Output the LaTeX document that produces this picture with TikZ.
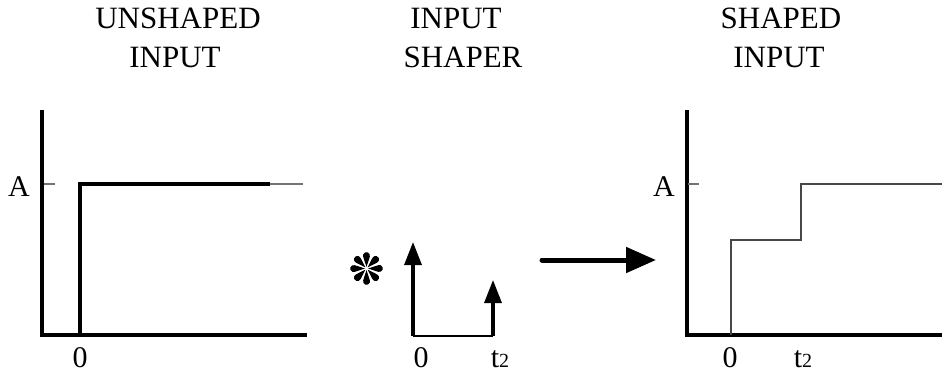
\documentclass[tikz,border=0pt]{standalone}
\usepackage{fontspec}
\setmainfont{Liberation Serif}
\usetikzlibrary{arrows.meta}
\tikzset{
  title/.style={anchor=base, font=\fontsize{31}{32}\selectfont, inner sep=0pt},
  lbl/.style={anchor=base, font=\fontsize{30}{32}\selectfont, inner sep=0pt},
  axis/.style={line width=3.5pt},
  thickstep/.style={line width=3.5pt},
  thinline/.style={line width=1.4pt, draw=black!72},
  ticks/.style={line width=1.2pt, draw=black!55},
  impulse/.style={line width=3.2pt, -{Triangle[length=23pt,width=17pt]}},
  bigarrow/.style={line width=5pt, -{Triangle[length=30pt,width=25pt]}, line cap=round},
  petal/.style={fill=black},
}
\newcommand{\tsub}{t{\fontsize{20}{22}\selectfont 2}}
\begin{document}
\begin{tikzpicture}[x=1pt,y=-1pt]
\useasboundingbox (0,0) rectangle (942,373);
% titles
\node[title] (t1a) at (178,28) {UNSHAPED};
\node[title] (t1b) at (175,67) {INPUT};
\node[title] (t2a) at (456,28) {INPUT};
\node[title] (t2b) at (463,67) {SHAPER};
\node[title] (t3a) at (781,28) {SHAPED};
\node[title] (t3b) at (779,67) {INPUT};
% left panel
\coordinate (lo) at (42,335);
\coordinate (ltop) at (42,110);
\coordinate (lend) at (307,335);
\draw[axis] (ltop) -- (lo) -- (lend);
\coordinate (ltk1) at (44,184);
\coordinate (ltk2) at (55,184);
\draw[ticks] (ltk1) -- (ltk2);
\coordinate (ls0) at (80,335);
\coordinate (ls1) at (80,184);
\coordinate (ls2) at (270,184);
\coordinate (ls3) at (303,184);
\draw[thickstep] (ls0) -- (ls1) -- (ls2);
\draw[ticks] (ls2) -- (ls3);
\node[lbl] (lA) at (19,196) {A};
\node[lbl] (l0) at (80,367) {0};
% middle panel: convolution star
\coordinate (star) at (366.5,268.5);
\foreach \a in {0,45,...,315}{
  \fill[petal, shift={(star)}, rotate=\a]
    (1.6,0) -- (11.65,3.29) arc[start angle=109.8, end angle=-109.8, radius=3.5] -- cycle;
}
\fill[white] (star) circle (1.3);
\coordinate (m0) at (413,336);
\coordinate (m0t) at (413,242);
\coordinate (m2) at (493,336);
\coordinate (m2t) at (493,280);
\draw[thinline, draw=black] (m0) -- (m2);
\draw[impulse] (m0) -- (m0t);
\draw[impulse] (m2) -- (m2t);
\node[lbl] (mz) at (421,367) {0};
\node[lbl] (mt) at (500,367) {\tsub};
% big arrow
\coordinate (ba1) at (542,260);
\coordinate (ba2) at (656,260);
\draw[bigarrow] (ba1) -- (ba2);
% right panel
\coordinate (ro) at (687,335);
\coordinate (rtop) at (687,110);
\coordinate (rend) at (942,335);
\draw[axis] (rtop) -- (ro) -- (rend);
\coordinate (rtk1) at (688,184);
\coordinate (rtk2) at (699,184);
\draw[ticks] (rtk1) -- (rtk2);
\coordinate (rs0) at (731,335);
\coordinate (rs1) at (731,240);
\coordinate (rs2) at (801,240);
\coordinate (rs3) at (801,184);
\coordinate (rs4) at (942,184);
\draw[thinline] (rs0) -- (rs1) -- (rs2) -- (rs3) -- (rs4);
\node[lbl] (rA) at (664,196) {A};
\node[lbl] (r0) at (730,367) {0};
\node[lbl] (rt) at (803,367) {\tsub};
\end{tikzpicture}
\end{document}
